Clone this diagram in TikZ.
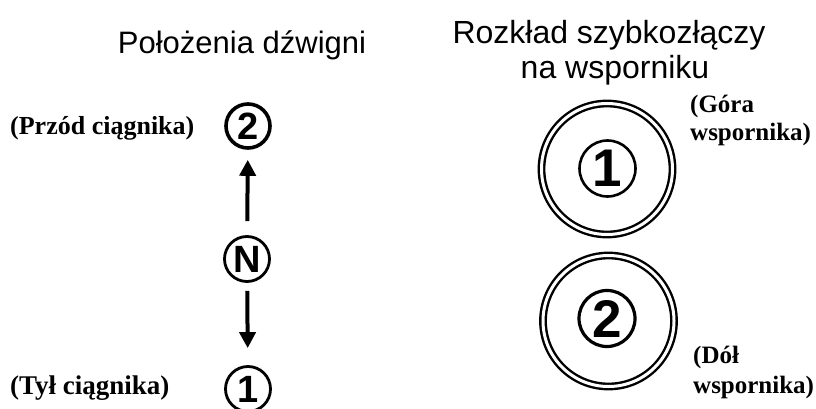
\documentclass[tikz,border=0pt]{standalone}
\usepackage{fontspec}
\setmainfont{Liberation Serif}
\setsansfont{Liberation Sans}
\usetikzlibrary{arrows.meta}
\begin{document}
\begin{tikzpicture}[x=1pt,y=-1pt,
  title/.style={font=\sffamily\fontsize{32}{35}\selectfont, inner sep=0pt, anchor=base},
  side/.style={font=\bfseries\fontsize{26}{28}\selectfont, align=left, inner sep=0pt, anchor=base west},
  leverpos/.style={circle, draw, line width=3.6pt, minimum size=44pt, inner sep=0pt,
              font=\sffamily\bfseries\fontsize{38}{38}\selectfont},
  leverthin/.style={leverpos, line width=2.8pt, minimum size=45pt},
  ring/.style={circle, draw, line width=2.4pt, double distance=3pt, minimum size=131pt, inner sep=0pt},
  hubmark/.style={circle, draw, line width=2.6pt, minimum size=56pt, inner sep=0pt,
              font=\sffamily\bfseries\fontsize{53}{53}\selectfont},
  move/.style={line width=4pt, -{Triangle[width=16pt,length=16pt]}}
]
\useasboundingbox (0,0) rectangle (816,409);

% lever positions
\node[title, font=\sffamily\fontsize{31}{35}\selectfont] (t1) at (242,54) {Położenia dźwigni};
\node[leverpos] (p2) at (248,126) {2};
\node[leverthin] (pn) at (247,259) {N};
\node[leverthin] (p1) at (248,389) {1};
\draw[move, shorten <=14pt, shorten >=10pt] (pn) -- (p2);
\draw[move, shorten <=8pt, shorten >=17pt] (pn) -- (p1);
\node[side] (front) at (10,135) {(Przód ciągnika)};
\node[side, font=\bfseries\fontsize{27}{28}\selectfont] (rear) at (10,394) {(Tył ciągnika)};

% coupler layout on the bracket
\node[title] (t2) at (609,44) {Rozkład szybkozłączy};
\node[title] (t3) at (615,79) {na wsporniku};
\node[ring] (r1) at (607,169) {};
\node[hubmark] (c1) at (607.5,168.5) {1};
\node[ring] (r2) at (608.5,321) {};
\node[hubmark, line width=3.2pt] (c2) at (607,318.5) {2};
\node[side, font=\bfseries\fontsize{25}{28}\selectfont] (top) at (690,140) {(Góra\\wspornika)};
\node[side, font=\bfseries\fontsize{25}{30}\selectfont] (bottom) at (693,393) {(Dół\\wspornika)};
\end{tikzpicture}
\end{document}
